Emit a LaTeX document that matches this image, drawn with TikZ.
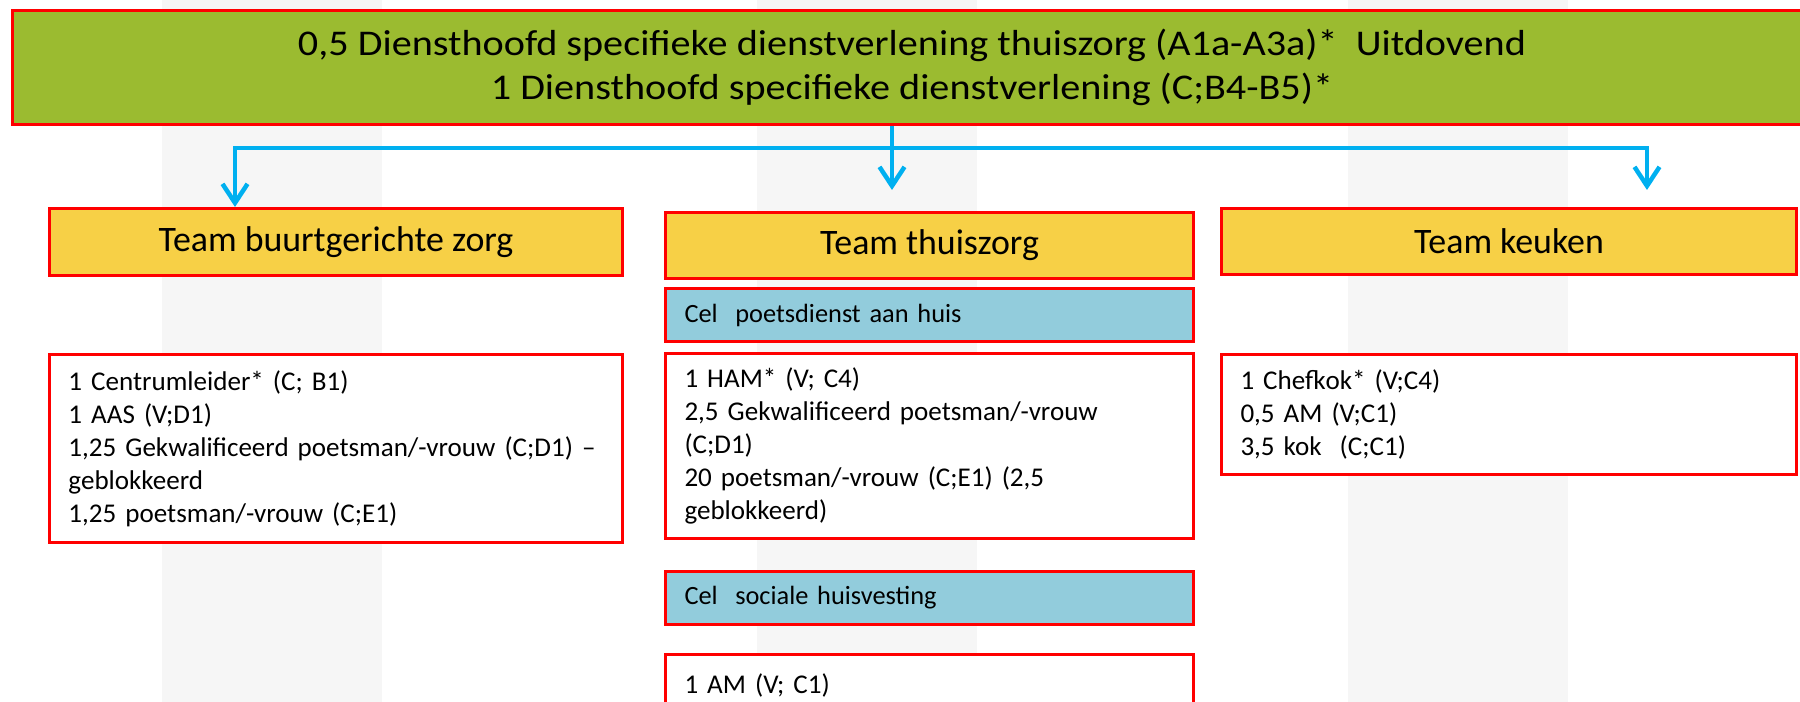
\documentclass[tikz,border=0pt]{standalone}
\usepackage{fontspec}
\setmainfont{Carlito}
\newfontfamily\kopfont[FakeStretch=1.11]{Carlito}
\usetikzlibrary{arrows.meta}
\definecolor{kopgroen}{RGB}{155,187,48}
\definecolor{teamgeel}{RGB}{247,208,70}
\definecolor{celblauw}{RGB}{146,204,220}
\definecolor{lijnblauw}{RGB}{0,176,240}
\definecolor{streep}{RGB}{246,246,246}
\definecolor{rand}{RGB}{255,0,0}

\begin{document}
\begin{tikzpicture}[x=1cm, y=1cm,
    vak/.style={draw=rand, line width=0.03cm, anchor=north west,
                inner xsep=0.19cm, inner ysep=0pt},
    teamvak/.style={vak, fill=teamgeel, align=center,
                    font=\fontsize{10.2pt}{12pt}\selectfont},
    celvak/.style={vak, fill=celblauw, align=left, text width=4.90cm,
                   minimum height=0.53cm, font=\fontsize{7.5pt}{9.4pt}\selectfont},
    lijstvak/.style={vak, fill=white, align=left,
                     font=\fontsize{7.7pt}{9.4pt}\selectfont},
    pijl/.style={draw=lijnblauw, line width=0.045cm,
                 -{Straight Barb[length=0.19cm, width=0.25cm]}}]

    \useasboundingbox (0,0) rectangle (18,-7.02);
    \clip (0,0) rectangle (18,-7.02);

    % achtergrondstroken
    \foreach \s in {1.62, 7.57, 13.48} {
        \fill[streep] (\s,0.1) rectangle (\s+2.2,-7.1);
    }

    % diensthoofd
    \node[vak, fill=kopgroen, minimum width=17.99cm, minimum height=1.14cm,
          align=center, font=\kopfont\fontsize{10.3pt}{12.5pt}\selectfont] (hoofd) at (0.11,-0.09)
        {0,5 Diensthoofd specifieke dienstverlening thuiszorg (A1a-A3a)*\ \ Uitdovend\\
         1 Diensthoofd specifieke dienstverlening (C;B4-B5)*};

    % teams
    \node[teamvak, minimum width=5.73cm, minimum height=0.67cm] (buurt) at (0.48,-2.07)
        {Team buurtgerichte zorg};
    \node[teamvak, minimum width=5.28cm, minimum height=0.66cm] (thuis) at (6.64,-2.11)
        {Team thuiszorg};
    \node[teamvak, minimum width=5.75cm, minimum height=0.66cm] (keuken) at (12.20,-2.07)
        {Team keuken};

    % cellen thuiszorg
    \node[celvak] (poets) at (6.64,-2.87) {Cel\ \ poetsdienst aan huis};
    \node[celvak] (sociaal) at (6.64,-5.70) {Cel\ \ sociale huisvesting};

    % bezetting
    \node[lijstvak, text width=5.35cm, minimum height=1.88cm] (buurtlijst) at (0.48,-3.53)
        {1 Centrumleider* (C; B1)\\
         1 AAS (V;D1)\\
         1,25 Gekwalificeerd poetsman/-vrouw (C;D1) –\\
         geblokkeerd\\
         1,25 poetsman/-vrouw (C;E1)};
    \node[lijstvak, text width=4.90cm, minimum height=1.85cm] (poetslijst) at (6.64,-3.52)
        {1 HAM* (V; C4)\\
         2,5 Gekwalificeerd poetsman/-vrouw\\
         (C;D1)\\
         20 poetsman/-vrouw (C;E1) (2,5\\
         geblokkeerd)};
    \node[lijstvak, text width=4.90cm, minimum height=0.61cm] (sociaallijst) at (6.64,-6.53)
        {1 AM (V; C1)};
    \node[lijstvak, text width=5.37cm, minimum height=1.20cm] (keukenlijst) at (12.20,-3.53)
        {1 Chefkok* (V;C4)\\
         0,5 AM (V;C1)\\
         3,5 kok\ \ (C;C1)};

    % verbindingen
    \coordinate (knoop) at (8.92,-1.48);
    \coordinate (tak1) at (2.35,-1.48);
    \coordinate (tak3) at (16.47,-1.48);
    \draw[pijl] (hoofd.south -| knoop) -- (knoop) -| (tak1 |- buurt.north);
    \draw[pijl, shorten >=0.17cm] (knoop) -| (tak3 |- keuken.north);
    \draw[pijl, shorten >=0.21cm] (knoop) -- (knoop |- thuis.north);

\end{tikzpicture}
\end{document}
